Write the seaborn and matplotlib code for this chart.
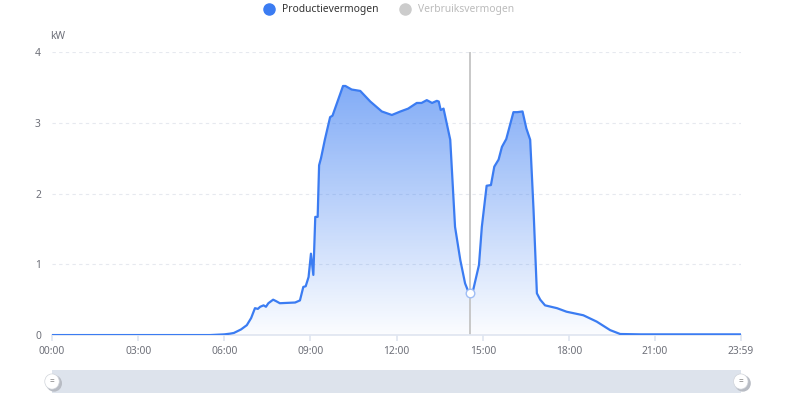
import numpy as np
import pandas as pd
import seaborn as sns
import matplotlib.pyplot as plt
from matplotlib.colors import LinearSegmentedColormap
from matplotlib.lines import Line2D
from matplotlib.patches import Ellipse

# production power (kW)
times = ["00:00", "05:30", "06:00", "06:12", "06:20", "06:35", "06:47", "06:56", "07:04", "07:10",
         "07:15", "07:22", "07:27", "07:32", "07:42", "07:48", "07:56", "08:28", "08:38", "08:45",
         "08:50", "08:56", "09:01", "09:06", "09:10", "09:15", "09:18", "09:22", "09:30", "09:41",
         "09:46", "10:08", "10:13", "10:26", "10:44", "11:05", "11:29", "11:50", "12:08", "12:24",
         "12:42", "12:52", "13:03", "13:14", "13:24", "13:28", "13:32", "13:38", "13:52", "14:02",
         "14:13", "14:23", "14:30", "14:34", "14:40", "14:52", "14:58", "15:08", "15:17", "15:24",
         "15:33", "15:40", "15:49", "16:04", "16:12", "16:23", "16:31", "16:39", "16:46", "16:53",
         "17:00", "17:10", "17:35", "17:55", "18:30", "18:58", "19:26", "19:47", "20:30", "23:59"]
power = [0.0, 0.0, 0.01, 0.02, 0.03, 0.08, 0.14, 0.24, 0.38, 0.37,
         0.40, 0.42, 0.40, 0.45, 0.50, 0.48, 0.45, 0.46, 0.49, 0.68,
         0.69, 0.82, 1.15, 0.85, 1.67, 1.67, 2.40, 2.50, 2.76, 3.08,
         3.10, 3.52, 3.52, 3.47, 3.45, 3.30, 3.16, 3.11, 3.16, 3.20,
         3.28, 3.28, 3.32, 3.28, 3.31, 3.30, 3.18, 3.20, 2.76, 1.53,
         1.06, 0.73, 0.61, 0.59, 0.64, 0.99, 1.53, 2.11, 2.12, 2.38,
         2.48, 2.66, 2.77, 3.15, 3.15, 3.16, 2.92, 2.76, 1.77, 0.59,
         0.50, 0.42, 0.38, 0.33, 0.28, 0.19, 0.07, 0.015, 0.01, 0.01]
tick_labels = ["00:00", "03:00", "06:00", "09:00", "12:00", "15:00", "18:00", "21:00", "23:59"]
y_ticks = [0, 1, 2, 3, 4]
cursor_time = "14:34"
series_names = ["Productievermogen", "Verbruiksvermogen"]


def to_min(s):
    h, m = s.split(":")
    return int(h) * 60 + int(m)


df = pd.DataFrame({"t": [to_min(s) for s in times], "kw": power})

sns.set_theme(style="white")
plt.rcParams["font.family"] = ["Noto Sans", "DejaVu Sans"]

fig = plt.figure(figsize=(8, 3.97), dpi=100)
ax = fig.add_axes([0.065, 0.156, 0.861, 0.713])

blue = "#3b7cf2"
x0, x1 = 0, to_min("23:59")

# gradient area under the curve
cmap = LinearSegmentedColormap.from_list("g", [(0.23, 0.49, 0.95, 0.02), (0.23, 0.49, 0.95, 0.72)])
grad = np.linspace(0, 1, 256).reshape(-1, 1)
poly = ax.fill_between(df["t"], df["kw"], 0, color="none", lw=0)
im = ax.imshow(grad, cmap=cmap, aspect="auto", origin="lower", extent=[x0, x1, 0, 4], zorder=1)
im.set_clip_path(poly.get_paths()[0], transform=ax.transData)

sns.lineplot(data=df, x="t", y="kw", ax=ax, color=blue, lw=1.6, zorder=3)

# tooltip cursor
ct = to_min(cursor_time)
cv = power[times.index(cursor_time)]
ax.axvline(ct, color="#c4c4c4", lw=1.3, zorder=2)
ax.scatter([ct], [cv], s=38, facecolor="white", edgecolor="#9fbdf5", lw=1, zorder=4)

ax.set_xlim(x0, x1)
ax.set_ylim(0, 4)
ax.set_xticks([to_min(s) for s in tick_labels])
ax.set_xticklabels(tick_labels)
ax.set_yticks(y_ticks)
ax.set_xlabel("")
ax.set_ylabel("")
ax.grid(axis="y", color="#e6e9ef", ls=(0, (3, 3)), lw=0.8)
for s in ["top", "right", "left"]:
    ax.spines[s].set_visible(False)
ax.spines["bottom"].set_color("#e0e6f1")
ax.tick_params(axis="x", colors="#e0e6f1", labelcolor="#6e7079", labelsize=7.4, length=4, pad=4, bottom=True)
ax.tick_params(axis="y", labelcolor="#6e7079", labelsize=7.4, length=0, pad=8)
ax.text(12, 4.226, "kW", fontsize=7.4, color="#6e7079", ha="center", va="center", clip_on=False)

# legend
handles = [Line2D([], [], marker="o", ls="", ms=8, color=blue),
           Line2D([], [], marker="o", ls="", ms=8, color="#cccccc")]
leg = fig.legend(handles, series_names, loc="center", bbox_to_anchor=(0.483, 0.975), ncol=2,
                 frameon=False, fontsize=7.4, handletextpad=0.3, columnspacing=1.6)
leg.get_texts()[0].set_color("#333333")
leg.get_texts()[1].set_color("#bbbbbb")

# zoom slider
sl = fig.add_axes([0.065, 0.01, 0.861, 0.058])
sl.set_facecolor("#dde3ec")
sl.set_xlim(0, 1)
sl.set_ylim(0, 1)
sl.set_xticks([])
sl.set_yticks([])
for s in sl.spines.values():
    s.set_visible(False)
for hx in [0, 1]:
    sl.add_patch(Ellipse((hx + 0.003, 0.42), 0.021, 0.66, color="#b8bcc4", clip_on=False, zorder=2))
    sl.add_patch(Ellipse((hx, 0.5), 0.021, 0.66, facecolor="white", edgecolor="#d0d4da", lw=0.5,
                         clip_on=False, zorder=3))
    sl.text(hx, 0.5, "=", fontsize=6, color="#888888", ha="center", va="center", zorder=4)

fig.savefig("out.png", dpi=100)
